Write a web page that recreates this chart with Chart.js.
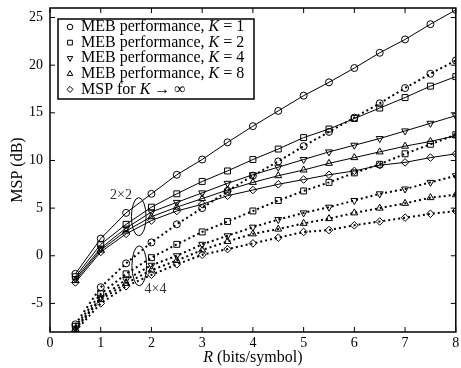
<!DOCTYPE html>
<html>
<head>
<meta charset="utf-8">
<script src="https://cdn.jsdelivr.net/npm/chart.js@4/dist/chart.umd.min.js"></script>
<style>
  html, body { margin: 0; padding: 0; background: #fff; }
</style>
</head>
<body>
<canvas id="mspChart" width="461" height="368"></canvas>
<script>
// --- Data ---
const rate = [0.5, 1, 1.5, 2, 2.5, 3, 3.5, 4, 4.5, 5, 5.5, 6, 6.5, 7, 7.5, 8];

// 2x2 system (solid lines)
const k1_2x2   = [-1.9, 1.8, 4.5, 6.5, 8.5, 10.1, 11.9, 13.6, 15.2, 16.8, 18.2, 19.7, 21.3, 22.7, 24.3, 25.8];
const k2_2x2   = [-2.2, 1.2, 3.3, 5.1, 6.5, 7.8, 8.9, 10.1, 11.2, 12.4, 13.3, 14.4, 15.5, 16.6, 17.8, 18.8];
const k4_2x2   = [-2.4, 0.8, 2.9, 4.6, 5.6, 6.6, 7.6, 8.5, 9.3, 10.1, 10.9, 11.6, 12.3, 13.1, 13.9, 14.7];
const k8_2x2   = [-2.6, 0.6, 2.6, 4.1, 5.1, 6.0, 6.9, 7.7, 8.4, 9.0, 9.7, 10.3, 10.9, 11.5, 12.0, 12.6];
const kInf_2x2 = [-2.8, 0.4, 2.3, 3.7, 4.7, 5.4, 6.3, 6.9, 7.5, 8.0, 8.5, 8.9, 9.5, 9.8, 10.3, 10.7];

// 4x4 system (dotted lines)
const k1_4x4   = [-7.2, -3.3, -0.8, 1.4, 3.3, 5.0, 6.8, 8.4, 9.9, 11.5, 13.0, 14.5, 16.0, 17.6, 19.1, 20.5];
const k2_4x4   = [-7.4, -4.0, -1.9, -0.2, 1.2, 2.5, 3.6, 4.7, 5.8, 6.8, 7.7, 8.7, 9.6, 10.7, 11.7, 12.7];
const k4_4x4   = [-7.6, -4.4, -2.5, -1.0, 0.0, 1.2, 2.1, 3.0, 3.8, 4.5, 5.1, 5.8, 6.5, 7.0, 7.7, 8.4];
const k8_4x4   = [-7.7, -4.6, -2.9, -1.5, -0.5, 0.6, 1.5, 2.3, 2.8, 3.4, 3.9, 4.5, 5.0, 5.5, 6.1, 6.4];
const kInf_4x4 = [-7.9, -5.0, -3.2, -2.0, -0.9, 0.1, 0.7, 1.3, 1.9, 2.5, 2.7, 3.2, 3.6, 4.0, 4.4, 4.7];

const xTicks = [0, 1, 2, 3, 4, 5, 6, 7, 8];
const yTicks = [-5, 0, 5, 10, 15, 20, 25];

// legend rows: [text, italic?] pieces
const legendRows = [
    [['MEB performance, ', false], ['K', true], [' = 1', false]],
    [['MEB performance, ', false], ['K', true], [' = 2', false]],
    [['MEB performance, ', false], ['K', true], [' = 4', false]],
    [['MEB performance, ', false], ['K', true], [' = 8', false]],
    [['MSP for ', false], ['K', true], [' \u2192 \u221e', false]]
];

const groupLabels = ['2\u00d72', '4\u00d74'];

const SERIF = '"Liberation Serif", "Times New Roman", serif';

// marker per K value
const markers = [
    { style: 'circle', rot: 0, r: 3.5 },
    { style: 'rect', rot: 0, r: 4.2 },
    { style: 'triangle', rot: 180, r: 4 },
    { style: 'triangle', rot: 0, r: 4 },
    { style: 'rectRot', rot: 0, r: 3.8 }
];

function series(values, m, dotted) {
    return {
        data: values.map((v, i) => ({ x: rate[i], y: v })),
        borderColor: '#000',
        borderWidth: dotted ? 2 : 1,
        borderDash: dotted ? [2, 3] : [],
        pointStyle: m.style,
        pointRotation: m.rot,
        pointRadius: m.r,
        pointBorderColor: '#000',
        pointBorderWidth: 1,
        pointBackgroundColor: 'rgba(0,0,0,0)',
        tension: 0,
        fill: false
    };
}

const solid = [k1_2x2, k2_2x2, k4_2x2, k8_2x2, kInf_2x2];
const dotted = [k1_4x4, k2_4x4, k4_4x4, k8_4x4, kInf_4x4];
const datasets = [];
solid.forEach((s, i) => datasets.push(series(s, markers[i], false)));
dotted.forEach((s, i) => datasets.push(series(s, markers[i], true)));

// --- Frame, ticks, titles, annotations and legend (MATLAB look) ---
const decorations = {
    id: 'decorations',
    afterDraw(chart) {
        const ctx = chart.ctx;
        const a = chart.chartArea;
        const xs = chart.scales.x, ys = chart.scales.y;
        ctx.save();
        ctx.strokeStyle = '#000';
        ctx.fillStyle = '#000';

        // ticks (inward, all four sides)
        ctx.lineWidth = 1;
        ctx.font = '14px ' + SERIF;
        ctx.textAlign = 'center';
        ctx.textBaseline = 'middle';
        xTicks.forEach(v => {
            const px = xs.getPixelForValue(v);
            ctx.beginPath();
            ctx.moveTo(px, a.bottom); ctx.lineTo(px, a.bottom - 5);
            ctx.moveTo(px, a.top); ctx.lineTo(px, a.top + 5);
            ctx.stroke();
            ctx.fillText(String(v), px, a.bottom + 11);
        });
        ctx.textAlign = 'right';
        yTicks.forEach(v => {
            const py = ys.getPixelForValue(v);
            ctx.beginPath();
            ctx.moveTo(a.left, py); ctx.lineTo(a.left + 5, py);
            ctx.moveTo(a.right, py); ctx.lineTo(a.right - 5, py);
            ctx.stroke();
            ctx.fillText(String(v), a.left - 7, py);
        });

        // frame
        ctx.lineWidth = 1.5;
        ctx.strokeRect(a.left, a.top, a.right - a.left, a.bottom - a.top);

        // y title
        ctx.font = '16px ' + SERIF;
        ctx.save();
        ctx.translate(18, (a.top + a.bottom) / 2);
        ctx.rotate(-Math.PI / 2);
        ctx.textAlign = 'center';
        ctx.textBaseline = 'middle';
        ctx.fillText('MSP (dB)', 0, 0);
        ctx.restore();

        // x title with italic R
        drawPieces(ctx, [['R', true], [' (bits/symbol)', false]], (a.left + a.right) / 2, 358, 16, 'center');

        // group ellipses and labels
        ctx.lineWidth = 1;
        const ell = (cx, cy, rx, ry) => {
            const px = xs.getPixelForValue(cx), py = ys.getPixelForValue(cy);
            const prx = xs.getPixelForValue(cx + rx) - px;
            const pry = py - ys.getPixelForValue(cy + ry);
            ctx.beginPath();
            ctx.ellipse(px, py, prx, pry, 0, 0, Math.PI * 2);
            ctx.stroke();
        };
        ell(1.75, 4.1, 0.145, 2.0);
        ell(1.76, -1.05, 0.145, 2.1);
        ctx.font = '14px ' + SERIF;
        ctx.textAlign = 'center';
        ctx.textBaseline = 'middle';
        ctx.fillStyle = '#333';
        ctx.fillText(groupLabels[0], xs.getPixelForValue(1.40), ys.getPixelForValue(6.3));
        ctx.fillText(groupLabels[1], xs.getPixelForValue(2.08), ys.getPixelForValue(-3.5));

        // legend box
        const lx = a.left + 8, ly = a.top + 11, lw = 196, lh = 80;
        ctx.fillStyle = '#fff';
        ctx.fillRect(lx, ly, lw, lh);
        ctx.lineWidth = 1.5;
        ctx.strokeRect(lx, ly, lw, lh);
        ctx.lineWidth = 1;
        legendRows.forEach((row, i) => {
            const y = ly + 8 + i * 15.6;
            const m = markers[i];
            ctx.fillStyle = '#fff';
            ctx.strokeStyle = '#000';
            Chart.helpers.drawPoint(ctx, {
                pointStyle: m.style, rotation: m.rot, radius: m.r * 0.8, borderWidth: 1
            }, lx + 12, y);
            ctx.fillStyle = '#000';
            drawPieces(ctx, row, lx + 23, y, 16, 'left');
        });

        ctx.restore();
    }
};

function drawPieces(ctx, pieces, x, y, size, align) {
    ctx.textBaseline = 'middle';
    ctx.textAlign = 'left';
    let total = 0;
    const widths = pieces.map(([t, it]) => {
        ctx.font = (it ? 'italic ' : '') + size + 'px ' + SERIF;
        const w = ctx.measureText(t).width;
        total += w;
        return w;
    });
    let cx = align === 'center' ? x - total / 2 : x;
    pieces.forEach(([t, it], i) => {
        ctx.font = (it ? 'italic ' : '') + size + 'px ' + SERIF;
        ctx.fillText(t, cx, y);
        cx += widths[i];
    });
}

const ctxMsp = document.getElementById('mspChart').getContext('2d');
const mspChart = new Chart(ctxMsp, {
    type: 'line',
    data: { datasets: datasets },
    options: {
        responsive: false,
        animation: false,
        devicePixelRatio: 1,
        layout: { padding: { top: 8, right: 1, left: 0, bottom: 0 } },
        scales: {
            x: {
                type: 'linear', min: 0, max: 8,
                grid: { display: false },
                border: { display: false },
                ticks: { display: false },
                afterFit(s) { s.height = 36; }
            },
            y: {
                type: 'linear', min: -8, max: 26,
                grid: { display: false },
                border: { display: false },
                ticks: { display: false },
                afterFit(s) { s.width = 50; }
            }
        },
        plugins: {
            legend: { display: false },
            tooltip: { enabled: false }
        }
    },
    plugins: [decorations]
});
</script>
</body>
</html>
